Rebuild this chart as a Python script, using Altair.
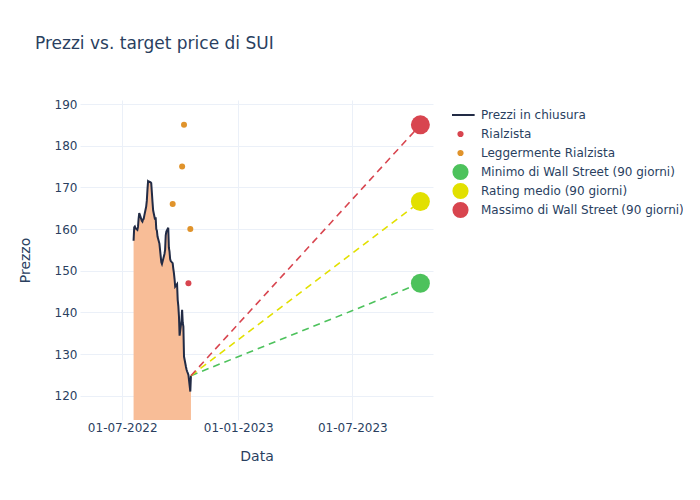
import altair as alt
import pandas as pd

# ---- data ----
price_dates = [
    "2022-07-19", "2022-07-20", "2022-07-21", "2022-07-22", "2022-07-25", "2022-07-26",
    "2022-07-27", "2022-07-28", "2022-07-29", "2022-08-01", "2022-08-02", "2022-08-03",
    "2022-08-04", "2022-08-05", "2022-08-08", "2022-08-09", "2022-08-10", "2022-08-11",
    "2022-08-12", "2022-08-15", "2022-08-16", "2022-08-17", "2022-08-18", "2022-08-19",
    "2022-08-22", "2022-08-23", "2022-08-24", "2022-08-25", "2022-08-26", "2022-08-29",
    "2022-08-30", "2022-08-31", "2022-09-01", "2022-09-02", "2022-09-06", "2022-09-07",
    "2022-09-08", "2022-09-09", "2022-09-12", "2022-09-13", "2022-09-14", "2022-09-15",
    "2022-09-16", "2022-09-19", "2022-09-20", "2022-09-21", "2022-09-22", "2022-09-23",
    "2022-09-26", "2022-09-27", "2022-09-28", "2022-09-29", "2022-09-30", "2022-10-03",
    "2022-10-04", "2022-10-05", "2022-10-06", "2022-10-07", "2022-10-10", "2022-10-11",
    "2022-10-12", "2022-10-13", "2022-10-14", "2022-10-17", "2022-10-18",
]
price_values = [
    157.2, 160.4, 160.6, 160.2, 159.8, 160.5,
    162.5, 163.8, 163.4, 162.0, 161.8, 162.3,
    162.4, 163.2, 165.4, 166.8, 169.4, 171.5,
    171.4, 171.2, 171.0, 168.8, 166.5, 164.5,
    162.3, 162.8, 160.0, 159.6, 158.2, 156.5,
    155.0, 153.5, 152.0, 151.6, 154.0, 155.0,
    158.5, 159.4, 160.3, 155.5, 154.6, 152.8,
    152.3, 151.8, 150.5, 149.4, 148.0, 146.2,
    146.8, 143.0, 141.5, 139.0, 134.4, 138.0,
    140.6, 137.5, 136.6, 129.4, 127.0, 126.3,
    125.8, 125.4, 125.0, 121.0, 124.8,
]

analyst_dates = ["2022-10-14", "2022-10-07", "2022-10-04", "2022-09-19", "2022-10-17"]
analyst_values = [147, 185, 175, 166, 160]
analyst_ratings = ["Rialzista", "Leggermente Rialzista", "Leggermente Rialzista",
                   "Leggermente Rialzista", "Leggermente Rialzista"]

target_date = "2023-10-17"
target_labels = ["Minimo di Wall Street (90 giorni)", "Rating medio (90 giorni)",
                 "Massimo di Wall Street (90 giorni)"]
target_values = [147, 166.6, 185]

series_order = ["Prezzi in chiusura", "Rialzista", "Leggermente Rialzista"] + target_labels
series_colors = ["#222b45", "#D8454F", "#E0932B", "#4DC25C", "#E2E000", "#D8454F"]
LINE_SYM = "M-2,0L2,0"
DOT_SYM = "M-0.3,0A0.3,0.3 0 1,0 0.3,0A0.3,0.3 0 1,0 -0.3,0Z"
series_shapes = [LINE_SYM, DOT_SYM, DOT_SYM, "circle", "circle", "circle"]
dash_colors = ["#4DC25C", "#E2E000", "#D8454F"]

x_ticks = [(2022, 7, 1), (2023, 1, 1), (2023, 7, 1)]
y_ticks = [120, 130, 140, 150, 160, 170, 180, 190]

FONT = "DejaVu Sans"

# ---- tables ----
color_of = dict(zip(series_order, series_colors))
price_df = pd.DataFrame({"date": price_dates, "value": price_values})
analyst_df = pd.DataFrame({
    "date": analyst_dates, "value": analyst_values, "series": analyst_ratings,
    "col": [color_of[s] for s in analyst_ratings],
})
target_df = pd.DataFrame({
    "date": [target_date] * len(target_values), "value": target_values, "series": target_labels,
    "col": [color_of[s] for s in target_labels],
})
dash_rows = []
for lab, val, col in zip(target_labels, target_values, dash_colors):
    dash_rows.append({"date": price_dates[-1], "value": price_values[-1], "series": lab, "col": col})
    dash_rows.append({"date": target_date, "value": val, "series": lab, "col": col})
dash_df = pd.DataFrame(dash_rows)
legend_df = pd.DataFrame({"series": series_order})

x_scale = alt.Scale(
    type="utc",
    domain=[alt.DateTime(year=2022, month=4, date=25, utc=True),
            alt.DateTime(year=2023, month=11, date=6, utc=True)],
)
x_axis = alt.Axis(
    title="Data", format="%d-%m-%Y",
    values=[alt.DateTime(year=y, month=m, date=d, utc=True) for y, m, d in x_ticks],
)
y_scale = alt.Scale(domain=[114.17, 190.96], nice=False, zero=False)
y_axis = alt.Axis(title="Prezzo", values=y_ticks)

X = alt.X("date:T", scale=x_scale, axis=x_axis)
Y = alt.Y("value:Q", scale=y_scale, axis=y_axis)

area = alt.Chart(price_df).mark_area(color="#F8BD97", opacity=1, clip=True).encode(
    x=X, y=Y, y2=alt.datum(100)
)
line = alt.Chart(price_df).mark_line(color="#222b45", strokeWidth=2, clip=True).encode(x=X, y=Y)

dashes = alt.Chart(dash_df).mark_line(strokeDash=[7, 5], strokeWidth=1.6).encode(
    x=X, y=Y, detail="series:N", color=alt.Color("col:N", scale=None, legend=None)
)

analyst_pts = alt.Chart(analyst_df).mark_circle(size=36, opacity=1).encode(
    x=X, y=Y, color=alt.Color("col:N", scale=None, legend=None)
)
target_pts = alt.Chart(target_df).mark_circle(size=360, opacity=1).encode(
    x=X, y=Y, color=alt.Color("col:N", scale=None, legend=None)
)

# legend-only layer: all rows filtered out, legend built from the explicit scale domains
leg = alt.Legend(title=None)
color_scale = alt.Scale(domain=series_order, range=series_colors)
legend_layer = alt.Chart(legend_df).transform_filter("false").mark_point(filled=True, opacity=1).encode(
    fill=alt.Fill("series:N", scale=color_scale, legend=leg),
    stroke=alt.Stroke("series:N", scale=color_scale, legend=leg),
    shape=alt.Shape("series:N", scale=alt.Scale(domain=series_order, range=series_shapes), legend=leg),
)

chart = (
    alt.layer(area, line, dashes, analyst_pts, target_pts, legend_layer)
    .properties(
        width=353, height=320,
        autosize=alt.AutoSizeParams(type="none"),
        padding={"left": 72, "top": 92, "right": 250, "bottom": 72},
        title=alt.Title("Prezzi vs. target price di SUI", anchor="start", frame="group", dx=-45, offset=45),
    )
    .configure_view(stroke=None)
    .configure_axis(
        grid=True, gridColor="#EBF0F8", gridWidth=1, domain=False, ticks=False,
        labelFont=FONT, labelFontSize=12, labelColor="#2a3f5f",
        titleFont=FONT, titleFontSize=14, titleColor="#2a3f5f", titleFontWeight="normal",
    )
    .configure_axisX(labelPadding=2, titlePadding=16)
    .configure_axisY(labelPadding=3, titlePadding=22)
    .configure_legend(
        orient="none", legendX=372, legendY=5.5,
        labelFont=FONT, labelFontSize=12, labelColor="#2a3f5f", labelLimit=400,
        symbolSize=200, symbolStrokeWidth=2, labelOffset=12, rowPadding=0,
        clipHeight=19, gridAlign="all",
    )
    .configure_title(font=FONT, fontSize=17, color="#2a3f5f", fontWeight="normal")
)

chart.save("out.html", embed_options={"renderer": "svg", "actions": False})
